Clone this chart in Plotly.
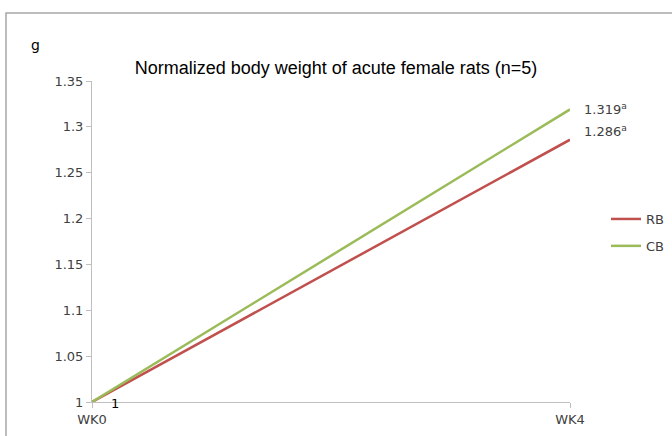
import plotly.graph_objects as go

weeks = ["WK0", "WK4"]
series_names = ["RB", "CB"]
rb_values = [1.0, 1.286]
cb_values = [1.0, 1.319]
end_labels = ["1", "1.286<sup>a</sup>", "1.319<sup>a</sup>"]
y_ticks = [1, 1.05, 1.1, 1.15, 1.2, 1.25, 1.3, 1.35]
colors = ["#C0504D", "#9BBB59"]

W, H = 672, 436
L, R, T, B = 92, 102, 81, 34
pw, ph = W - L - R, H - T - B
FONT = "DejaVu Sans"

def px_x(p):
    return (p - L) / pw

def px_y(p):
    return (H - B - p) / ph

fig = go.Figure()
for i, (name, vals) in enumerate(zip(series_names, [rb_values, cb_values])):
    fig.add_trace(go.Scatter(
        x=weeks, y=vals, name=name, mode="lines",
        line=dict(color=colors[i], width=2.5),
        legendgroup=name, cliponaxis=False,
    ))

annotations = []
annotations.append(dict(x=weeks[0], y=rb_values[0], text=end_labels[0], showarrow=False,
                        xanchor="left", yanchor="middle", xshift=17, yshift=-1,
                        font=dict(family=FONT, size=13, color="#000000")))
annotations.append(dict(x=weeks[1], y=rb_values[1], text=end_labels[1], showarrow=False,
                        xanchor="left", yanchor="middle", xshift=12, yshift=9,
                        font=dict(family=FONT, size=13, color="#404040")))
annotations.append(dict(x=weeks[1], y=cb_values[1], text=end_labels[2], showarrow=False,
                        xanchor="left", yanchor="middle", xshift=12, yshift=0,
                        font=dict(family=FONT, size=13, color="#404040")))
annotations.append(dict(x=px_x(35), y=px_y(45), xref="paper", yref="paper", text="g",
                        showarrow=False, xanchor="center", yanchor="middle",
                        font=dict(family=FONT, size=14, color="#000000")))

fig.update_layout(
    width=W, height=H,
    margin=dict(l=L, r=R, t=T, b=B, autoexpand=False),
    paper_bgcolor="white", plot_bgcolor="white",
    title=dict(text="Normalized body weight of acute female rats (n=5)",
               xref="container", yref="container",
               x=336 / W, xanchor="center", y=1 - 68 / H, yanchor="middle",
               font=dict(family="Liberation Sans", size=18, color="#000000")),
    xaxis=dict(type="category", range=[0, 1], showgrid=False, zeroline=False,
               showline=True, linecolor="#bfbfbf", linewidth=1,
               ticks="outside", ticklen=5, tickcolor="#bfbfbf",
               tickfont=dict(family=FONT, size=13, color="#404040")),
    yaxis=dict(range=[1, 1.35], tickvals=y_ticks, ticktext=[f"{v:g}" for v in y_ticks],
               showgrid=False, zeroline=False,
               showline=True, linecolor="#bfbfbf", linewidth=1,
               ticks="outside", ticklen=5, tickcolor="#bfbfbf",
               tickfont=dict(family=FONT, size=13, color="#404040")),
    legend=dict(x=px_x(606), y=px_y(204), xanchor="left", yanchor="top",
                traceorder="grouped", tracegroupgap=7,
                font=dict(family=FONT, size=13, color="#404040"),
                bgcolor="rgba(0,0,0,0)", itemwidth=30),
    annotations=annotations,
    shapes=[dict(type="rect", xref="paper", yref="paper",
                 x0=px_x(6), x1=px_x(700), y0=px_y(460), y1=px_y(13),
                 line=dict(color="#a6a6a6", width=1.5), layer="below")],
)

fig.write_html("out.html", config={"displayModeBar": False},
               post_script="document.body.style.margin='0';document.body.style.padding='0';")
